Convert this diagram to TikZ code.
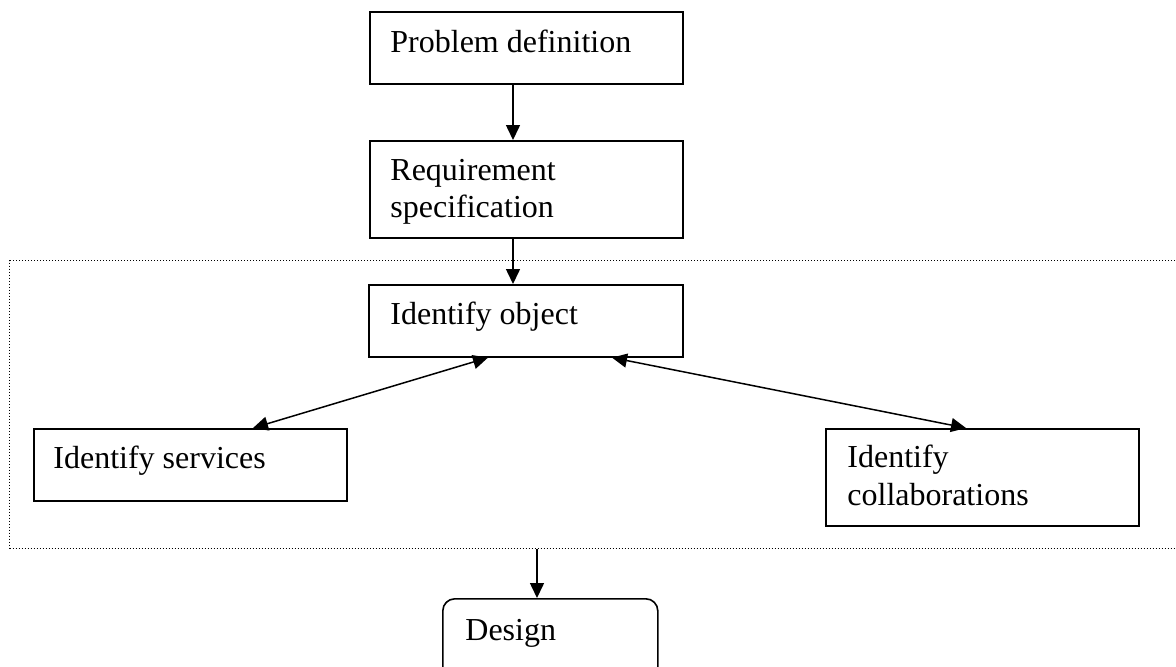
\documentclass[tikz,border=0pt]{standalone}
\usepackage{fontspec}
\setmainfont{Liberation Serif}
\usetikzlibrary{arrows.meta,calc}
\begin{document}
\begin{tikzpicture}[x=0.5pt,y=-0.5pt,
  box/.style={draw, line width=0.8pt, inner sep=0pt, anchor=north west},
  rbox/.style={box, rounded corners=6pt},
  grpbox/.style={draw, line width=0.7pt, dash pattern=on 0.5pt off 1pt, inner sep=0pt, anchor=north west},
  txt/.style={anchor=base west, inner sep=0pt, font=\fontsize{16}{18.5}\selectfont},
  conn/.style={line width=0.75pt, -{Triangle[length=7.5pt,width=7pt]}},
  dconn/.style={line width=0.75pt, {Triangle[length=7.5pt,width=7pt]}-{Triangle[length=7.5pt,width=7pt]}}
]
\useasboundingbox (0,0) rectangle (1176,666);
\clip (0,0) rectangle (1176,666);

% group (dotted) box
\node[grpbox, minimum width=595pt, minimum height=144pt] (grp) at (9,260) {};

% boxes
\node[box, minimum width=156.5pt, minimum height=36pt] (prob) at (369,11) {};
\node[box, minimum width=156.5pt, minimum height=48.5pt] (req) at (369,140) {};
\node[box, minimum width=157pt, minimum height=36pt] (obj) at (368,284) {};
\node[box, minimum width=156.5pt, minimum height=36pt] (svc) at (33,428) {};
\node[box, minimum width=156.5pt, minimum height=48.5pt] (col) at (825,428) {};
\node[rbox, minimum width=107.5pt, minimum height=40pt] (des) at (442,598) {};

% texts
\node[txt] (probt) at (390,52) {Problem definition};
\node[txt] (reqt1) at (390,180) {Requirement};
\node[txt] (reqt2) at (390,217) {specification};
\node[txt] (objt) at (390,324) {Identify object};
\node[txt] (svct) at (53,468) {Identify services};
\node[txt] (colt1) at (847,467) {Identify};
\node[txt] (colt2) at (847,505) {collaborations};
\node[txt] (dest) at (465,640) {Design};

% connector columns
\coordinate (ax) at (513,0);
\coordinate (dx) at (537,0);

\draw[conn] (prob.south -| ax) -- (req.north -| ax);
\draw[conn] (req.south -| ax) -- (obj.north -| ax);
\draw[dconn] ($(obj.south west)+(120,0)$) -- ($(svc.north west)+(220,0)$);
\draw[dconn] ($(obj.south west)+(244,0)$) -- ($(col.north west)+(141,0)$);
\draw[conn] (grp.south -| dx) -- (des.north -| dx);
\end{tikzpicture}
\end{document}
